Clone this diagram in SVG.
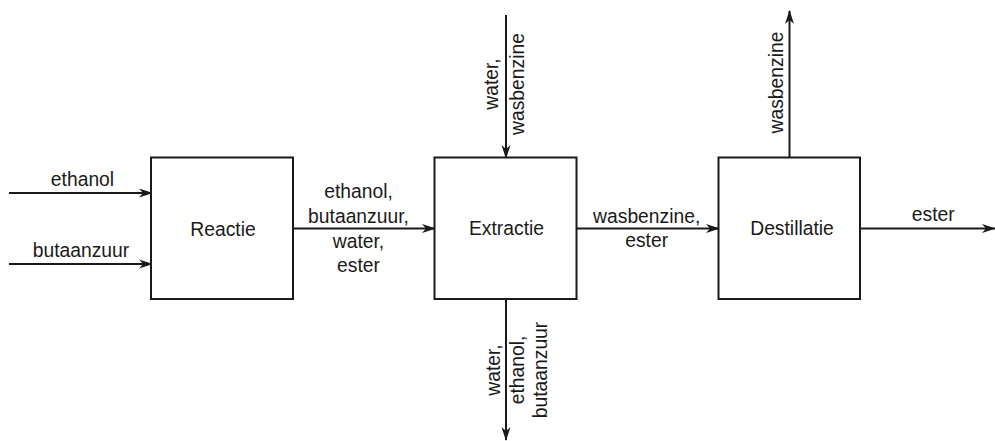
<svg xmlns="http://www.w3.org/2000/svg" width="995" height="441" viewBox="0 0 995 441">
<defs>
<style>
.box{fill:#fff;stroke:#1a1a1a;stroke-width:2}
.ln{fill:none;stroke:#1a1a1a;stroke-width:2}
text{font-family:"Liberation Sans",Arial,sans-serif;font-size:19.3px;fill:#1a1a1a;text-anchor:middle}
</style>
<marker id="ah" viewBox="0 0 14 10" refX="13" refY="5" markerWidth="14" markerHeight="10" markerUnits="userSpaceOnUse" orient="auto">
<path d="M0,0.5 L14,5 L0,9.5 L4,5 Z" fill="#1a1a1a"/>
</marker>
</defs>
<rect width="995" height="441" fill="#fff"/>
<g id="connectors">
<line class="ln" x1="9" y1="193" x2="152" y2="193" marker-end="url(#ah)"/>
<line class="ln" x1="9" y1="264" x2="152" y2="264" marker-end="url(#ah)"/>
<line class="ln" x1="293" y1="228.5" x2="435" y2="228.5" marker-end="url(#ah)"/>
<line class="ln" x1="506" y1="15" x2="506" y2="158" marker-end="url(#ah)"/>
<line class="ln" x1="506" y1="299" x2="506" y2="440" marker-end="url(#ah)"/>
<line class="ln" x1="577" y1="228.5" x2="719" y2="228.5" marker-end="url(#ah)"/>
<line class="ln" x1="789.5" y1="157" x2="789.5" y2="11" marker-end="url(#ah)"/>
<line class="ln" x1="860" y1="228.5" x2="995" y2="228.5" marker-end="url(#ah)"/>
</g>
<g id="labels">
<text x="82.5" y="185.5">ethanol</text>
<text x="81" y="257">butaanzuur</text>
<text x="358.5" y="198.3">ethanol,</text>
<text x="358.5" y="222.7">butaanzuur,</text>
<text x="358.5" y="247.7">water,</text>
<text x="358.5" y="272.3">ester</text>
<text transform="translate(498,84) rotate(-90)">water,</text>
<text transform="translate(523.5,84) rotate(-90)">wasbenzine</text>
<text transform="translate(499.5,370) rotate(-90)">water,</text>
<text transform="translate(523.5,370) rotate(-90)">ethanol,</text>
<text transform="translate(547,370) rotate(-90)">butaanzuur</text>
<text x="646.7" y="223.3">wasbenzine,</text>
<text x="646.7" y="246.7">ester</text>
<text transform="translate(783,82.5) rotate(-90)">wasbenzine</text>
<text x="933.3" y="221">ester</text>
</g>
<g id="reactie">
<rect class="box" x="151" y="157.5" width="142" height="141.5"/>
<text x="223" y="235.5">Reactie</text>
</g>
<g id="extractie">
<rect class="box" x="434.5" y="157.5" width="142" height="141.5"/>
<text x="506.5" y="235.3">Extractie</text>
</g>
<g id="destillatie">
<rect class="box" x="718.5" y="157.5" width="141.5" height="141.5"/>
<text x="792" y="235.3">Destillatie</text>
</g>
</svg>
